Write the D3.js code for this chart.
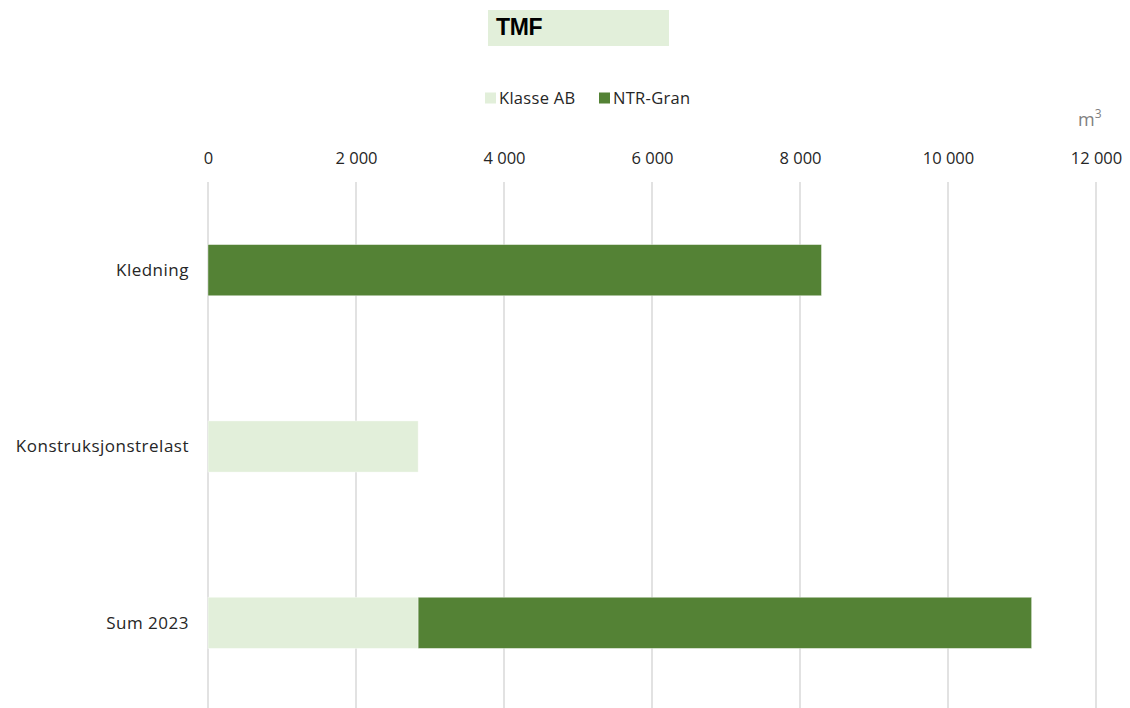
<!DOCTYPE html>
<html>
<head>
<meta charset="utf-8">
<script src="https://cdn.jsdelivr.net/npm/d3@7"></script>
<style>
  body { margin: 0; background: #fff; }
  text { font-family: "Open Sans", sans-serif; }
</style>
</head>
<body>
<svg id="chart" width="1130" height="708"></svg>
<script>
// data
const categories = ["Kledning", "Konstruksjonstrelast", "Sum 2023"];
const klasseAB = [0, 2840, 2840];
const ntrGran = [8290, 0, 8290];
const seriesNames = ["Klasse AB", "NTR-Gran"];
const xTicks = [0, 2000, 4000, 6000, 8000, 10000, 12000];

const colors = {"Klasse AB": "#e2efda", "NTR-Gran": "#548235"};

const margin = {top: 182, right: 34, bottom: 0, left: 208},
  width = 1130 - margin.left - margin.right,
  height = 711 - margin.top;

const svg = d3.select("#chart");

// title box
svg.append("rect")
  .attr("x", 488).attr("y", 10)
  .attr("width", 181).attr("height", 36)
  .attr("fill", "#e2efda");
svg.append("text")
  .attr("x", 496).attr("y", 35)
  .style("font-family", "Arial, 'Liberation Sans', sans-serif")
  .style("font-weight", "bold")
  .style("font-size", "23px")
  .style("letter-spacing", "-0.3px")
  .attr("fill", "#000")
  .text("TMF");

const g = svg.append("g")
  .attr("transform", `translate(${margin.left}, ${margin.top})`);

const x = d3.scaleLinear()
  .domain([0, 12000])
  .range([0, 888]);

const y = d3.scaleBand()
  .domain(categories)
  .range([0, height])
  .paddingInner(0.71)
  .paddingOuter(0.355);

const fmt = d => d3.format(",")(d).replace(/,/g, " ");

// gridlines
g.selectAll("line.grid")
  .data(xTicks)
  .join("line")
    .attr("class", "grid")
    .attr("x1", d => x(d)).attr("x2", d => x(d))
    .attr("y1", 0).attr("y2", height)
    .attr("stroke", "#d9d9d9")
    .attr("stroke-width", 1.5);

// top axis labels
const axis = g.append("g")
  .call(d3.axisTop(x).tickValues(xTicks).tickFormat(fmt).tickSize(0).tickPadding(18));
axis.select(".domain").remove();
axis.selectAll("text")
  .style("font-size", "16.5px")
  .attr("fill", "#262626")
  .attr("font-family", "'Open Sans', sans-serif");

// stacked bars
const rows = categories.map((c, i) => ({cat: c, "Klasse AB": klasseAB[i], "NTR-Gran": ntrGran[i]}));
const stack = d3.stack().keys(seriesNames)(rows);

g.selectAll("g.series")
  .data(stack)
  .join("g")
    .attr("class", "series")
    .attr("fill", d => colors[d.key])
  .selectAll("rect")
  .data(d => d.filter(p => p[1] - p[0] > 0))
  .join("rect")
    .attr("x", d => x(d[0]))
    .attr("y", d => y(d.data.cat))
    .attr("width", d => x(d[1]) - x(d[0]))
    .attr("height", y.bandwidth())
    .attr("stroke", "#ffffff")
    .attr("stroke-opacity", 0.5)
    .attr("stroke-width", 0.75);

// category labels
g.selectAll("text.cat")
  .data(categories)
  .join("text")
    .attr("class", "cat")
    .attr("x", -19)
    .attr("y", d => y(d) + y.bandwidth() / 2)
    .attr("dy", "0.35em")
    .attr("text-anchor", "end")
    .style("font-size", "17px")
    .style("letter-spacing", "0.5px")
    .attr("fill", "#262626")
    .text(d => d);

// legend
const legend = svg.append("g").attr("transform", "translate(485, 98)");
const legX = [0, 114];
seriesNames.forEach((s, i) => {
  legend.append("rect")
    .attr("x", legX[i]).attr("y", -5.5)
    .attr("width", 11).attr("height", 11)
    .attr("fill", colors[s]);
  legend.append("text")
    .attr("x", legX[i] + 14).attr("y", 0)
    .attr("dy", "0.35em")
    .style("font-size", "16.5px")
    .style("letter-spacing", "0.3px")
    .attr("fill", "#262626")
    .text(s);
});

// unit label
const unit = svg.append("text")
  .attr("x", 1078).attr("y", 126)
  .style("font-size", "18px")
  .attr("fill", "#7f7f7f");
unit.append("tspan").text("m");
unit.append("tspan").attr("dy", -8).style("font-size", "12px").text("3");
</script>
</body>
</html>
